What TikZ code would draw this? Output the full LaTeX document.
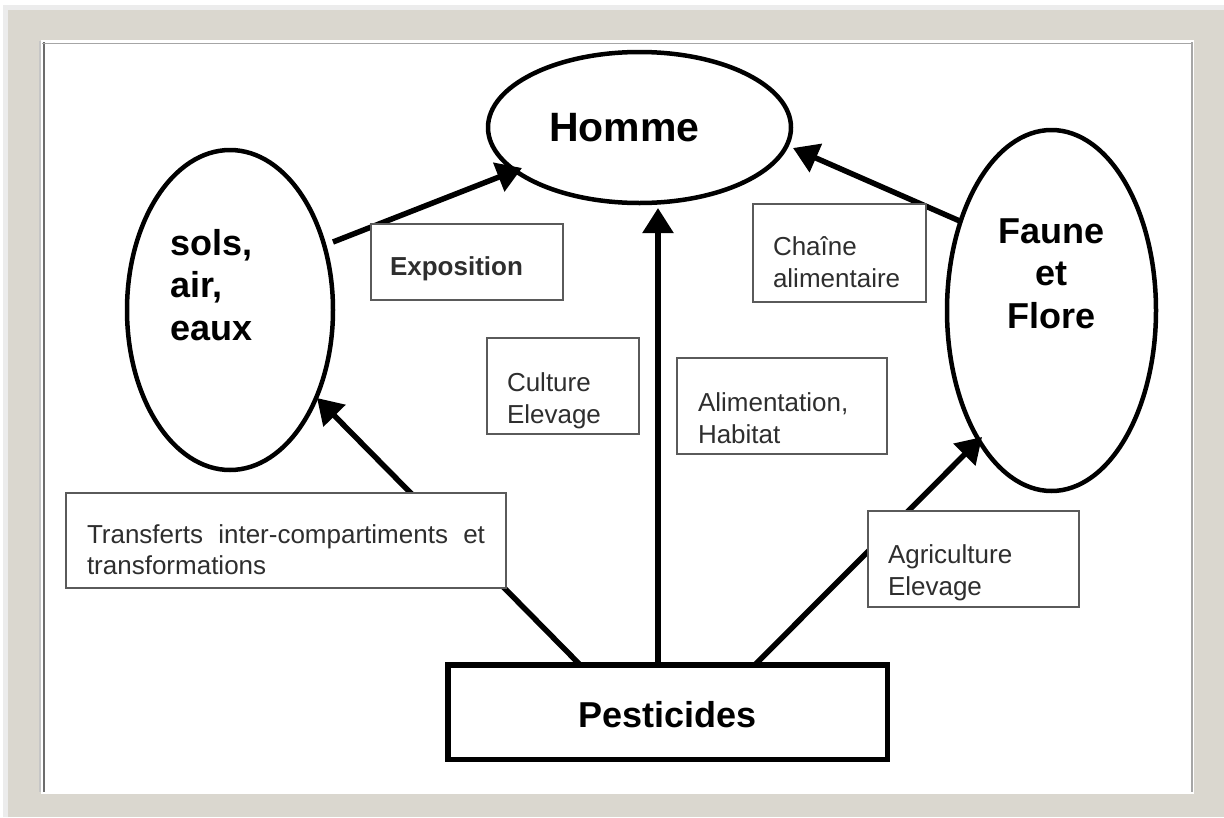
\documentclass[tikz,border=0pt]{standalone}
\usepackage{fontspec}
\setmainfont{Liberation Sans}
\usetikzlibrary{arrows.meta,shapes.geometric,calc}
\definecolor{frameC}{HTML}{DAD7CF}
\definecolor{shadowC}{HTML}{ECECEC}
\definecolor{boxC}{HTML}{5A5A5A}
\definecolor{txtC}{HTML}{2E2E2E}
\begin{document}
\begin{tikzpicture}[x=1pt,y=-1pt,
  ell/.style={ellipse, draw=black, line width=4.5pt, inner sep=0pt,
    font=\bfseries\fontsize{36}{42.5}\selectfont},
  lbl/.style={rectangle, draw=boxC, line width=1.5pt, fill=white, inner sep=0pt,
    align=left, text=txtC, font=\fontsize{26}{31.5}\selectfont, text depth=0pt},
  arr/.style={line width=5.5pt, -{Triangle[length=25pt,width=30pt]}},
  framebg/.style={fill=frameC},
  rim/.style={line width=1.5pt}
]
\useasboundingbox (0,0) rectangle (1224,817);
% frame
\fill[white] (0,0) rectangle (1224,817);
\fill[shadowC] (3,5) rectangle (1224,817);
\fill[framebg] (8,10) rectangle (1224,817);
\fill[white] (41,40) rectangle (1194,794);
\draw[rim, draw=gray!45] (40,41) -- (40,792);
\draw[rim, draw=gray!85!black] (44,42) -- (44,792);
\draw[rim, draw=gray!70, line width=1pt] (42,43) -- (1191,43);
\draw[rim, draw=gray!70] (1192,42) -- (1192,792);

% ellipses
\node[ell, minimum width=303pt, minimum height=151pt,
  font=\bfseries\fontsize{41}{48}\selectfont, text height=27pt, text depth=0pt]
  (homme) at (639.5,127.5) {Homme\hspace*{30pt}};
\node[ell, minimum width=206pt, minimum height=320pt, text width=120pt, align=left,
  text height=0pt, text depth=110pt] (sols) at (230,310) {sols,\\air,\\eaux};
\node[ell, minimum width=209pt, minimum height=361pt, text width=140pt, align=center,
  text height=0pt, text depth=135pt] (faune) at (1051.5,310.5) {Faune\\et\\Flore};

% Pesticides box
\node[rectangle, draw=black, line width=5.5pt, fill=white, minimum width=439.5pt,
  minimum height=94.5pt, inner sep=0pt, font=\bfseries\fontsize{36}{42}\selectfont,
  text height=31pt, text depth=0pt] (pest) at (667.5,712) {Pesticides};

% connectors
\draw[arr] ($(sols.center)+(103,-68)$) -- ($(homme.center)+(-117.5,40.5)$);
\draw[arr] ($(faune.center)+(-89.5,-88.5)$) -- ($(homme.center)+(153.5,20.5)$);
\draw[arr] ($(pest.center)+(-9.5,-47.25)$) -- ($(homme.center)+(18.5,80.5)$);
\draw[arr] ($(pest.center)+(-87.5,-47.25)$) -- ($(sols.center)+(87,88)$);
\draw[arr] ($(pest.center)+(87.5,-47.25)$) -- ($(faune.center)+(-69.5,126.5)$);

% label boxes
\node[lbl, minimum width=192pt, minimum height=76pt, text width=154pt, text height=26pt,
  font=\bfseries\fontsize{26}{31.5}\selectfont] (expo) at (467,262) {Exposition};
\node[lbl, minimum width=173pt, minimum height=98pt, text width=133pt, text height=5.2pt]
  (chaine) at (839.5,253) {Chaîne\\alimentaire};
\node[lbl, minimum width=152pt, minimum height=96pt, text width=112pt, text height=11.2pt]
  (culture) at (563,386) {Culture\\Elevage};
\node[lbl, minimum width=210pt, minimum height=96pt, text width=168pt, text height=11.2pt]
  (alim) at (782,406) {Alimentation,\\Habitat};
\node[lbl, minimum width=440pt, minimum height=95pt, text width=398pt, text height=5.6pt,
  align=justify] (transf) at (286,540.5) {Transferts inter-compartiments et transformations};
\node[lbl, minimum width=211pt, minimum height=96pt, text width=171pt, text height=9pt]
  (agri) at (973.5,559) {Agriculture\\Elevage};
\end{tikzpicture}
\end{document}
